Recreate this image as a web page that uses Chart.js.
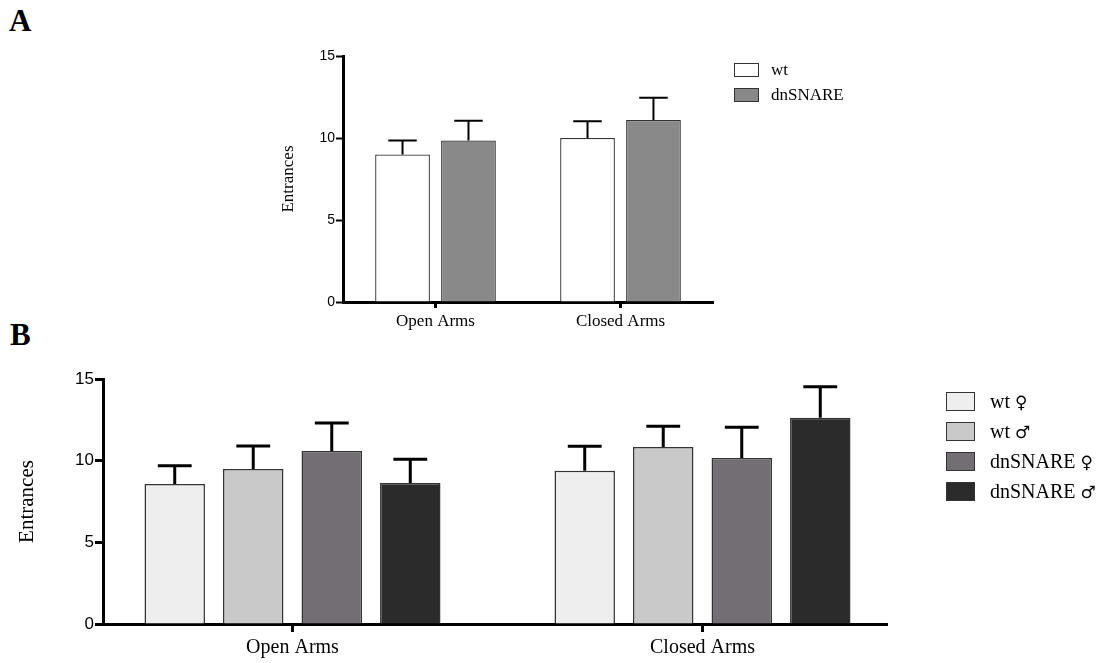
<!DOCTYPE html>
<html><head><meta charset="utf-8">
<script src="https://cdn.jsdelivr.net/npm/chart.js@4/dist/chart.umd.min.js"></script>
<style>
body{margin:0;background:#fff;width:1114px;height:663px;position:relative;overflow:hidden;font-family:"Liberation Serif","DejaVu Serif",serif;color:#000;}
canvas{position:absolute;left:0;}
#cA{top:0}
#cB{top:340px}
.panel{position:absolute;font-weight:bold;font-size:31px;line-height:1;}
.item{position:absolute;display:flex;align-items:center;white-space:nowrap;}
.sw{border:1px solid #333;box-sizing:border-box;flex:none;}
.sym{font-family:"DejaVu Sans",sans-serif;font-weight:normal;}
</style></head><body>
<div class="panel" style="left:9px;top:5px">A</div>
<div class="panel" style="left:10px;top:319px">B</div>
<canvas id="cA" width="1114" height="340"></canvas>
<canvas id="cB" width="1114" height="323"></canvas>
<div id="legA"></div>
<div id="legB"></div>
<script>
// ---- data ----
const categories = ['Open Arms', 'Closed Arms'];
const yTickStep = 5;
const yMax = 15;

// Panel A
const seriesA = ['wt', 'dnSNARE'];
const colorsA = ['#ffffff', '#898989'];
const wtA_mean = [9.0, 10.0];
const wtA_sem = [0.85, 1.02];
const dnA_mean = [9.85, 11.1];
const dnA_sem = [1.2, 1.36];

// Panel B
const seriesB = ['wt \u2640', 'wt \u2642', 'dnSNARE \u2640', 'dnSNARE \u2642'];
const colorsB = ['#eeeeee', '#c9c9c9', '#726e73', '#2b2b2b'];
const wtF_mean = [8.57, 9.39];
const wtF_sem = [1.12, 1.49];
const wtM_mean = [9.49, 10.84];
const wtM_sem = [1.41, 1.26];
const dnF_mean = [10.59, 10.17];
const dnF_sem = [1.72, 1.87];
const dnM_mean = [8.63, 12.63];
const dnM_sem = [1.45, 1.9];
const catPosB = [1, 2];

// ---- error bar plugin ----
const errorBars = {
  id: 'errorBars',
  afterDatasetsDraw(chart, args, opts) {
    const ctx = chart.ctx, ys = chart.scales.y;
    chart.data.datasets.forEach((ds, di) => {
      const meta = chart.getDatasetMeta(di);
      meta.data.forEach((bar, i) => {
        const d = ds.data[i];
        const v = (typeof d === 'object') ? d.y : d;
        const top = ys.getPixelForValue(v + ds.errors[i]);
        const half = bar.width * (opts.cap || 0.26);
        ctx.save();
        ctx.strokeStyle = '#000';
        ctx.lineWidth = opts.width || 2;
        ctx.beginPath();
        ctx.moveTo(bar.x, bar.y);
        ctx.lineTo(bar.x, top);
        ctx.moveTo(bar.x - half, top);
        ctx.lineTo(bar.x + half, top);
        ctx.stroke();
        ctx.restore();
      });
    });
  }
};

Chart.defaults.animation = false;

// ---- Chart A ----
new Chart(document.getElementById('cA'), {
  type: 'bar',
  data: {
    labels: categories,
    datasets: [
      {label: seriesA[0], data: wtA_mean, errors: wtA_sem, backgroundColor: colorsA[0]},
      {label: seriesA[1], data: dnA_mean, errors: dnA_sem, backgroundColor: colorsA[1]}
    ].map(d => Object.assign(d, {borderColor: '#333', borderWidth: 1.3, categoryPercentage: 0.713, barPercentage: 0.83}))
  },
  options: {
    responsive: false, devicePixelRatio: 1,
    layout: {padding: {left: 274, right: 401, top: 56, bottom: 0}},
    plugins: {legend: {display: false}, tooltip: {enabled: false}, errorBars: {width: 2, cap: 0.26}},
    scales: {
      x: {
        type: 'category', offset: true,
        grid: {offset: false, drawOnChartArea: false, drawTicks: true, tickLength: 6, tickWidth: 3, tickColor: '#000'},
        border: {display: true, width: 3, color: '#000'},
        ticks: {font: {family: 'Liberation Serif', size: 17}, color: '#000', padding: 3, maxRotation: 0},
        afterFit(s) { s.height = 38; }
      },
      y: {
        min: 0, max: yMax,
        ticks: {stepSize: yTickStep, font: {family: 'Liberation Sans', size: 14}, color: '#000', padding: 1},
        grid: {drawOnChartArea: false, drawTicks: true, tickLength: 7, tickWidth: 2, tickColor: '#000'},
        border: {display: true, width: 3, color: '#000'},
        title: {display: true, text: 'Entrances', font: {family: 'Liberation Serif', size: 17}, color: '#000', padding: {top: 4, bottom: 0}},
        afterFit(s) { s.width = 69; }
      }
    }
  },
  plugins: [errorBars]
});

// ---- Chart B ----
const meansB = [wtF_mean, wtM_mean, dnF_mean, dnM_mean];
const semsB = [wtF_sem, wtM_sem, dnF_sem, dnM_sem];
new Chart(document.getElementById('cB'), {
  type: 'bar',
  data: {
    datasets: seriesB.map((name, k) => ({
      label: name,
      data: catPosB.map((p, i) => ({x: p, y: meansB[k][i]})),
      errors: semsB[k],
      backgroundColor: colorsB[k],
      borderColor: '#333', borderWidth: 1.5,
      categoryPercentage: 0.766, barPercentage: 0.77
    }))
  },
  options: {
    responsive: false, devicePixelRatio: 1,
    layout: {padding: {left: 11, right: 227, top: 39, bottom: 0}},
    plugins: {legend: {display: false}, tooltip: {enabled: false}, errorBars: {width: 3, cap: 0.28}},
    scales: {
      x: {
        type: 'linear', min: 0.5378, max: 2.45, offset: false,
        afterBuildTicks(s) { s.ticks = catPosB.map(v => ({value: v})); },
        grid: {offset: false, drawOnChartArea: false, drawTicks: true, tickLength: 8, tickWidth: 3, tickColor: '#000'},
        border: {display: true, width: 3, color: '#000'},
        ticks: {callback: (v, i) => categories[i], font: {family: 'Liberation Serif', size: 20}, color: '#000', padding: 4, maxRotation: 0, autoSkip: false},
        afterFit(s) { s.height = 39; }
      },
      y: {
        min: 0, max: yMax,
        ticks: {stepSize: yTickStep, font: {family: 'Liberation Sans', size: 17}, color: '#000', padding: 1},
        grid: {drawOnChartArea: false, drawTicks: true, tickLength: 8, tickWidth: 3, tickColor: '#000'},
        border: {display: true, width: 3, color: '#000'},
        title: {display: true, text: 'Entrances', font: {family: 'Liberation Serif', size: 21}, color: '#000', padding: {top: 4, bottom: 0}},
        afterFit(s) { s.width = 92; }
      }
    }
  },
  plugins: [errorBars]
});

// ---- HTML legends ----
function legend(el, names, colors, x, y0, step, bw, bh, fs, gap, symSize) {
  names.forEach((n, i) => {
    const it = document.createElement('div');
    it.className = 'item';
    it.style.left = x + 'px';
    it.style.top = (y0 + i * step) + 'px';
    it.style.height = bh + 'px';
    const sw = document.createElement('div');
    sw.className = 'sw';
    sw.style.width = bw + 'px'; sw.style.height = bh + 'px'; sw.style.background = colors[i];
    const tx = document.createElement('span');
    tx.style.fontSize = fs + 'px';
    tx.style.marginLeft = gap + 'px';
    // render gender symbols with a font that has full-size glyphs
    n.split(/([\u2640\u2642])/).forEach(part => {
      if (!part) return;
      if (part === '\u2640' || part === '\u2642') {
        const s = document.createElement('span');
        s.className = 'sym';
        s.style.fontSize = symSize + 'px';
        s.textContent = part;
        tx.appendChild(s);
      } else {
        tx.appendChild(document.createTextNode(part));
      }
    });
    it.appendChild(sw); it.appendChild(tx);
    el.appendChild(it);
  });
}
legend(document.getElementById('legA'), seriesA, colorsA, 734, 63, 25, 25, 14, 17, 12, 17);
legend(document.getElementById('legB'), seriesB, colorsB, 946, 392, 30, 29, 19, 20, 15, 17);
</script>
</body></html>
